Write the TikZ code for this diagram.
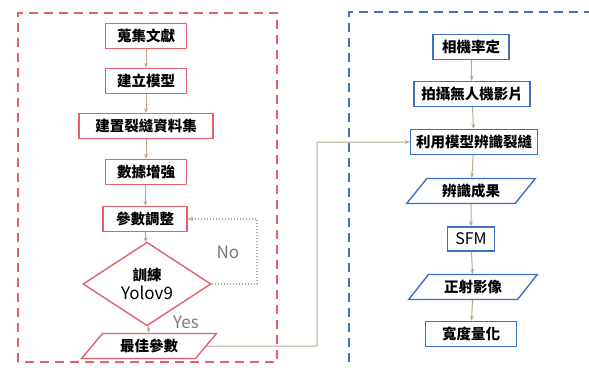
\documentclass[tikz,border=0pt]{standalone}
\usepackage{fontspec}
\setmainfont{Noto Sans CJK TC}
\usetikzlibrary{shapes.geometric,arrows.meta}
\definecolor{rbox}{RGB}{228,96,108}
\definecolor{bbox}{RGB}{62,112,196}
\definecolor{tan}{RGB}{186,168,144}
\definecolor{lbl}{RGB}{120,120,120}
\tikzset{
  rbx/.style={draw=rbox,line width=1.4pt,fill=white,minimum height=25pt,inner sep=0pt,font=\fontsize{14.5}{19}\selectfont\bfseries},
  bbx/.style={draw=bbox,line width=1.4pt,fill=white,minimum height=25pt,inner sep=0pt,font=\fontsize{14.5}{19}\selectfont\bfseries},
  para/.style={trapezium,trapezium left angle=47,trapezium right angle=133,trapezium stretches=true},
  flow/.style={draw=tan,line width=1pt,-{Stealth[length=5pt,width=4pt]}},
  frameR/.style={draw=rbox,line width=1.5pt,dash pattern=on 9pt off 6pt},
  frameB/.style={draw=bbox,line width=1.5pt,dash pattern=on 9pt off 6pt},
  lab/.style={text=lbl,font=\fontsize{17}{19}\selectfont}
}
\begin{document}
\begin{tikzpicture}[x=1pt,y=-1pt]
\useasboundingbox (0,0) rectangle (589,367);
\fill[white] (0,0) rectangle (589,367);
% frames
\draw[frameR] (18,362) -- (18,13) -- (277,13) -- (277,362) -- cycle;
\draw[frameB] (349,362) -- (349,12) -- (595,12);
% left column
\node[rbx,minimum width=81pt] (a1) at (146,36) {蒐集文獻};
\node[rbx,minimum width=81pt] (a2) at (146,81) {建立模型};
\node[rbx,minimum width=134pt] (a3) at (146,126) {建置裂縫資料集};
\node[rbx,minimum width=81pt] (a4) at (146,172) {數據增強};
\node[rbx,minimum width=84pt] (a5) at (145,219) {參數調整};
\node[rbx,diamond,minimum width=128pt,minimum height=59pt,align=center] (a6) at (147,284)
  {訓練\\{\fontsize{17}{19}\selectfont\mdseries Yolov9}};
\node[rbx,para,minimum width=136pt] (a7) at (149,346) {最佳參數};
% right column
\node[bbx,minimum width=76pt] (b1) at (471,47) {相機率定};
\node[bbx,minimum width=116pt] (b2) at (472,94) {拍攝無人機影片};
\node[bbx,minimum width=127pt] (b3) at (474,142) {利用模型辨識裂縫};
\node[bbx,para,minimum width=129pt] (b4) at (471,191) {辨識成果};
\node[bbx,minimum width=47pt,minimum height=24pt,font=\fontsize{16}{18}\selectfont] (b5) at (471,239) {SFM};
\node[bbx,para,minimum width=129pt] (b6) at (473,287) {正射影像};
\node[bbx,minimum width=91pt] (b7) at (471,334) {寬度量化};
% arrows
\draw[flow] (a1) -- (a2);
\draw[flow] (a2) -- (a3);
\draw[flow] (a3) -- (a4);
\draw[flow] (a4) -- (a5);
\draw[flow] (a5) -- (a6);
\draw[flow] (a6) -- (a7);
\draw[flow] (b1) -- (b2);
\draw[flow] (b2) -- (b3);
\draw[flow] (b3) -- (b4);
\draw[flow] (b4) -- (b5);
\draw[flow] (b5) -- (b6);
\draw[flow] (b6) -- (b7);
% loop
\coordinate (c1) at (257,284);
\coordinate (c2) at (257,219);
\draw[flow,dotted,line width=1.2pt] (a6.east) -- (c1) -- (c2) -- (a5.east);
% link
\coordinate (d1) at (317,346);
\coordinate (d2) at (317,142);
\draw[flow] (a7.east) -- (d1) -- (d2) -- (b3.west);
% labels
\node[lab] (no) at (228,252) {No};
\node[lab] (yes) at (186,322) {Yes};
\end{tikzpicture}
\end{document}
